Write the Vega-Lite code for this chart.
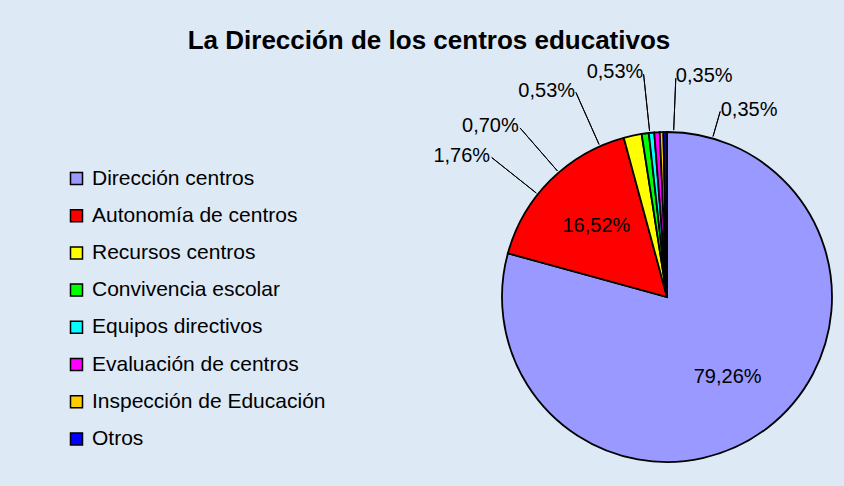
{
  "$schema": "https://vega.github.io/schema/vega-lite/v6.json",
  "autosize": {"type": "none"},
  "padding": {"left": 490, "top": 108, "right": 0, "bottom": 0},
  "width": 354,
  "height": 378,
  "background": "#dde9f5",
  "title": {
    "text": "La Dirección de los centros educativos",
    "anchor": "middle",
    "frame": "group",
    "dx": -238,
    "offset": 8,
    "fontSize": 26,
    "font": "Liberation Sans",
    "fontWeight": "bold",
    "color": "#000000"
  },
  "data": {
    "values": [
      {"categoria": "Dirección centros", "pct": 0.7926},
      {"categoria": "Autonomía de centros", "pct": 0.1652},
      {"categoria": "Recursos centros", "pct": 0.0176},
      {"categoria": "Convivencia escolar", "pct": 0.0070},
      {"categoria": "Equipos directivos", "pct": 0.0053},
      {"categoria": "Evaluación de centros", "pct": 0.0053},
      {"categoria": "Inspección de Educación", "pct": 0.0035},
      {"categoria": "Otros", "pct": 0.0035}
    ]
  },
  "transform": [{"window": [{"op": "row_number", "as": "orden"}]}],
  "layer": [
    {
      "mark": {"type": "arc", "outerRadius": 165, "stroke": "#000000", "strokeWidth": 1.8},
      "encoding": {
        "theta": {"field": "pct", "type": "quantitative", "stack": true},
        "order": {"field": "orden", "type": "quantitative"},
        "color": {
          "field": "categoria",
          "type": "nominal",
          "sort": null,
          "scale": {
            "domain": ["Dirección centros", "Autonomía de centros", "Recursos centros", "Convivencia escolar", "Equipos directivos", "Evaluación de centros", "Inspección de Educación", "Otros"],
            "range": ["#9999ff", "#ff0000", "#ffff00", "#00ff00", "#00ffff", "#ff00ff", "#ffcc00", "#0000ff"]
          },
          "legend": {
            "orient": "none",
            "legendX": -424,
            "legendY": 60,
            "title": null,
            "symbolType": "square",
            "symbolSize": 144,
            "symbolStrokeColor": "#000000",
            "symbolStrokeWidth": 1.5,
            "symbolOpacity": 1,
            "labelFontSize": 21,
            "labelFont": "Liberation Sans",
            "labelColor": "#000000",
            "labelLimit": 400,
            "rowPadding": 15.2,
            "labelOffset": 5,
            "padding": 0
          }
        }
      }
    },
    {
      "mark": {"type": "text", "radius": 100, "fontSize": 20, "font": "Liberation Sans", "color": "#000000"},
      "encoding": {
        "theta": {"field": "pct", "type": "quantitative", "stack": true},
        "order": {"field": "orden", "type": "quantitative"},
        "detail": {"field": "categoria", "type": "nominal"},
        "text": {
          "condition": {"test": "datum.orden <= 2", "field": "pct", "type": "quantitative", "format": ".2%"},
          "value": ""
        }
      }
    },
    {
      "transform": [{"filter": "datum.orden >= 3 && datum.orden <= 6"}],
      "mark": {"type": "arc", "radius": 224, "radius2": 167, "fill": null, "stroke": "#000000", "strokeWidth": 1},
      "encoding": {
        "theta": {"field": "orden", "type": "quantitative", "stack": null, "scale": {"domain": [3, 4, 5, 6], "range": [5.3844, 5.5676, 5.8643, 6.1785]}},
        "theta2": {"field": "orden"}
      }
    },
    {
      "transform": [{"filter": "datum.orden >= 3 && datum.orden <= 6"}],
      "mark": {"type": "text", "radius": 226, "align": "right", "baseline": "middle", "fontSize": 20, "font": "Liberation Sans", "color": "#000000"},
      "encoding": {
        "theta": {"field": "orden", "type": "quantitative", "stack": null, "scale": {"domain": [3, 4, 5, 6], "range": [5.3844, 5.5676, 5.8643, 6.1785]}},
        "text": {"field": "pct", "type": "quantitative", "format": ".2%"}
      }
    },
    {
      "transform": [{"filter": "datum.orden >= 7"}],
      "mark": {"type": "arc", "radius2": 167, "fill": null, "stroke": "#000000", "strokeWidth": 1},
      "encoding": {
        "theta": {"field": "orden", "type": "quantitative", "stack": null, "scale": {"domain": [7, 8], "range": [6.3233, 6.5624]}},
        "theta2": {"field": "orden"},
        "radius": {"field": "orden", "type": "quantitative", "scale": {"type": "linear", "zero": false, "domain": [7, 8], "range": [219, 193]}}
      }
    },
    {
      "transform": [{"filter": "datum.orden >= 7"}],
      "mark": {"type": "text", "align": "left", "baseline": "middle", "fontSize": 20, "font": "Liberation Sans", "color": "#000000"},
      "encoding": {
        "theta": {"field": "orden", "type": "quantitative", "stack": null, "scale": {"domain": [7, 8], "range": [6.3233, 6.5624]}},
        "radius": {"field": "orden", "type": "quantitative", "scale": {"type": "linear", "zero": false, "domain": [7, 8], "range": [221, 195]}},
        "text": {"field": "pct", "type": "quantitative", "format": ".2%"}
      }
    }
  ],
  "resolve": {"scale": {"theta": "independent", "radius": "independent"}},
  "config": {
    "view": {"stroke": null},
    "locale": {"number": {"decimal": ",", "thousands": ".", "grouping": [3], "currency": ["", " €"]}}
  }
}
